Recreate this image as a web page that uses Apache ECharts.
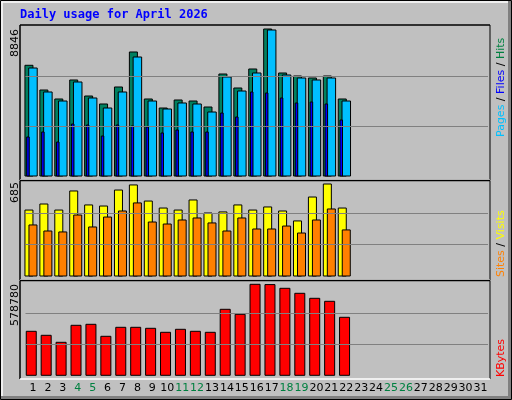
<!DOCTYPE html>
<html><head><meta charset="utf-8">
<script src="https://cdn.jsdelivr.net/npm/echarts@6/dist/echarts.min.js"></script>
<style>html,body{margin:0;padding:0;background:#c0c0c0}#c{width:512px;height:400px}</style>
</head><body><div id="c"></div>
<script>
const days = ['1','2','3','4','5','6','7','8','9','10','11','12','13','14','15','16','17','18','19','20','21','22','23','24','25','26','27','28','29','30','31'];
const weekendDays = ['4','5','11','12','18','19','25','26'];
const hits  = [6662,5175,4634,5777,4814,4333,5356,7462,4634,4092,4574,4513,4152,6138,5296,6439,8846,6199,6018,5898,6018,4634];
const pages = [6499,5055,4513,5657,4694,4092,5055,7161,4513,4032,4393,4333,3851,5958,5115,6199,8786,6078,5898,5777,5898,4513];
const files = [2347,2648,2046,3129,3069,2407,3069,3009,2949,2588,2768,2648,2648,3791,3551,5055,4995,4694,4393,4453,4333,3370];
const visits= [491,536,491,633,529,521,640,678,558,506,491,566,469,477,529,491,514,484,410,588,685,506];
const sites = [380,335,328,454,365,439,484,544,402,387,417,432,395,335,432,350,350,372,320,417,499,343];
const kbytes= [279840,254400,209880,318000,324360,248040,305280,305280,298920,273480,292560,279840,273480,419760,387960,578780,577000,553320,521520,489720,470640,368880];

const maxHits = Math.max(...hits), maxVisits = Math.max(...visits), maxKB = Math.max(...kbytes);
const M1 = maxHits*150/147, M2 = maxVisits*94.5/92, M3 = maxKB*93/91;

const chart = echarts.init(document.getElementById('c'));
function barSeries(data, gi, color, off, w){
  return {type:'custom', xAxisIndex:gi, yAxisIndex:gi, data:data.map((v,i)=>[i,v]),
    renderItem:(p,api)=>{
      const base = api.coord([api.value(0),0]);
      const top = api.coord([api.value(0),api.value(1)]);
      const bw = api.size([1,0])[0];
      const cx = base[0] + off*bw/14.9, ww = w*bw/14.9;
      return {type:'rect', shape:{x:cx-ww/2, y:top[1], width:ww, height:base[1]-top[1]},
        style:{fill:color, stroke:'#000', lineWidth:1}};
    }, z:3};
}
function gridLines(gi, M){
  return {type:'line', xAxisIndex:gi, yAxisIndex:gi, data:[], z:1,
    markLine:{silent:true, symbol:'none', label:{show:false},
      lineStyle:{color:'#808080', type:'solid', width:1},
      data:[{yAxis:M/3},{yAxis:2*M/3}]}};
}
const grids = [{left:25.5,right:24,top:26,height:150},{left:25.5,right:24,top:181.5,height:94.5},{left:25.5,right:24,top:282.3,height:93}];
const xAxes = grids.map((g,i)=>({type:'category', gridIndex:i, data:days, boundaryGap:true,
  axisLine:{show:false}, axisTick:{show:false}, splitLine:{show:false},
  axisLabel:{show:i===2, interval:0, margin:7, fontFamily:'DejaVu Sans', fontSize:11,
    color:(v)=>weekendDays.includes(v)?'#008040':'#000'}}));
const yAxes = [M1,M2,M3].map((M,i)=>({type:'value', gridIndex:i, min:0, max:M, show:false, splitLine:{show:false}}));

function box(x1,y1,x2,y2){
  return [
    {type:'rect', shape:{x:x1,y:y1,width:x2-x1,height:y2-y1}, style:{fill:'#c0c0c0'}, z:-5},
    {type:'line', shape:{x1:x1,y1:y1,x2:x2,y2:y1}, style:{stroke:'#000',lineWidth:1.5}, z:10},
    {type:'line', shape:{x1:x1,y1:y1,x2:x1,y2:y2}, style:{stroke:'#000',lineWidth:1.5}, z:10},
    {type:'line', shape:{x1:x2,y1:y1,x2:x2,y2:y2}, style:{stroke:'#000',lineWidth:1}, z:10},
    {type:'line', shape:{x1:x1,y1:y2,x2:x2,y2:y2}, style:{stroke:'#fff',lineWidth:1.5}, z:10}
  ];
}
const ff = 'DejaVu Sans';
function vtext(x,yBottom,rich,text,z){
  return {type:'text', x:x, y:yBottom, rotation:Math.PI/2, z:12,
    style:{text:text, rich:rich, fontFamily:ff, fontSize:11, align:'left', verticalAlign:'middle'}};
}
const graphic = [
  {type:'rect', shape:{x:0.5,y:0.5,width:511,height:399}, style:{fill:'#c0c0c0',stroke:'#000',lineWidth:1}, z:-10},
  {type:'line', shape:{x1:1.5,y1:2,x2:509,y2:2}, style:{stroke:'#fff',lineWidth:1.5}, z:-9},
  {type:'line', shape:{x1:2,y1:1.5,x2:2,y2:397}, style:{stroke:'#fff',lineWidth:1.5}, z:-9},
  {type:'line', shape:{x1:1,y1:397.5,x2:511,y2:397.5}, style:{stroke:'#808080',lineWidth:3}, z:-9},
  {type:'line', shape:{x1:509.5,y1:1,x2:509.5,y2:399}, style:{stroke:'#808080',lineWidth:3}, z:-9},
  ...box(20,25,490,180), ...box(20,180.5,490,280), ...box(20,280.5,490,379),
  {type:'text', x:20, y:9, style:{text:'Daily usage for April 2026', fill:'#0000ff', fontFamily:'DejaVu Sans Mono', fontWeight:'bold', fontSize:12}, z:12},
  {type:'text', x:15, y:29, rotation:Math.PI/2, style:{text:String(maxHits), fill:'#000', fontFamily:ff, fontSize:11, align:'right', verticalAlign:'middle'}, z:12},
  {type:'text', x:15, y:182, rotation:Math.PI/2, style:{text:String(maxVisits), fill:'#000', fontFamily:ff, fontSize:11, align:'right', verticalAlign:'middle'}, z:12},
  {type:'text', x:15, y:284, rotation:Math.PI/2, style:{text:String(maxKB), fill:'#000', fontFamily:ff, fontSize:11, align:'right', verticalAlign:'middle'}, z:12},
  {type:'text', x:501, y:137, rotation:Math.PI/2, z:12, style:{text:'{p|Pages}{s| / }{f|Files}{s| / }{h|Hits}', fontFamily:ff, fontSize:11, verticalAlign:'middle',
     rich:{p:{fill:'#00c0ff',fontFamily:ff,fontSize:11},f:{fill:'#0000ff',fontFamily:ff,fontSize:11},h:{fill:'#008040',fontFamily:ff,fontSize:11},s:{fill:'#000',fontFamily:ff,fontSize:11}}}},
  {type:'text', x:501, y:277, rotation:Math.PI/2, z:12, style:{text:'{a|Sites}{s| / }{b|Visits}', fontFamily:ff, fontSize:11, verticalAlign:'middle',
     rich:{a:{fill:'#ff8000',fontFamily:ff,fontSize:11},b:{fill:'#ffff00',fontFamily:ff,fontSize:11},s:{fill:'#000',fontFamily:ff,fontSize:11}}}},
  {type:'text', x:501, y:377, rotation:Math.PI/2, z:12, style:{text:'KBytes', fill:'#ff0000', fontFamily:ff, fontSize:11, verticalAlign:'middle'}}
];

chart.setOption({
  animation:false, backgroundColor:'#c0c0c0',
  grid:grids, xAxis:xAxes, yAxis:yAxes, graphic:graphic,
  series:[
    gridLines(0,M1), gridLines(1,M2), gridLines(2,M3),
    barSeries(hits,0,'#008060',-4,8),
    barSeries(pages,0,'#00bfff',0,8.5),
    barSeries(files,0,'#0000ff',-5,2.5),
    barSeries(visits,1,'#ffff00',-4,8),
    barSeries(sites,1,'#ff8000',0,8),
    barSeries(kbytes,2,'#ff0000',-1.7,10)
  ]
});
</script></body></html>
